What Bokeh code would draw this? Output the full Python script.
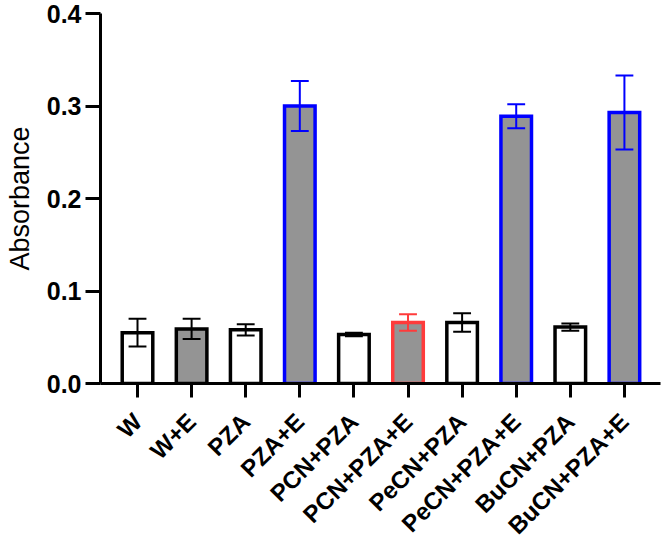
from math import pi

from bokeh.embed import file_html
from bokeh.models import ColumnDataSource, FixedTicker, Range1d
from bokeh.plotting import figure
from bokeh.resources import INLINE

# Absorbance per treatment group (mean and error)
groups = ["W", "W+E", "PZA", "PZA+E", "PCN+PZA", "PCN+PZA+E",
          "PeCN+PZA", "PeCN+PZA+E", "BuCN+PZA", "BuCN+PZA+E"]
means = [0.055, 0.059, 0.058, 0.300, 0.053, 0.066, 0.066, 0.289, 0.061, 0.293]
errors = [0.015, 0.011, 0.006, 0.027, 0.002, 0.009, 0.010, 0.013, 0.004, 0.040]
fills = ["white", "#949494", "white", "#949494", "white", "#949494",
         "white", "#949494", "white", "#949494"]
outlines = ["black", "black", "black", "#0000ff", "black", "#ff3b3b",
            "black", "#0000ff", "black", "#0000ff"]
y_ticks = [0.0, 0.1, 0.2, 0.3, 0.4]

FONT = "Liberation Sans"
BAR_W = 0.565
CAP = 0.165
X_LO, X_HI = -0.684, 9.667

xs = list(range(len(groups)))
src = ColumnDataSource(dict(
    x=xs, top=means, fill=fills, line=outlines,
    lo=[m - e for m, e in zip(means, errors)],
    hi=[m + e for m, e in zip(means, errors)],
    cl=[x - CAP for x in xs], cr=[x + CAP for x in xs],
))

p = figure(width=665, height=557, output_backend="svg", toolbar_location=None,
           x_range=Range1d(X_LO, X_HI), y_range=Range1d(0, 0.4),
           min_border_left=100, min_border_right=5,
           min_border_top=13, min_border_bottom=174)
p.frame_width = 560
p.frame_height = 370
p.outline_line_color = None
p.grid.visible = False
p.background_fill_color = "white"

p.vbar(x="x", top="top", bottom=0, width=BAR_W, source=src,
       fill_color="fill", line_color="line", line_width=3.5,
       line_join="miter")

# error bars drawn over the bars
p.segment(x0="x", y0="lo", x1="x", y1="hi", source=src,
          line_color="line", line_width=2)
p.segment(x0="cl", y0="hi", x1="cr", y1="hi", source=src,
          line_color="line", line_width=2)
p.segment(x0="cl", y0="lo", x1="cr", y1="lo", source=src,
          line_color="line", line_width=2)

xa = p.xaxis[0]
xa.ticker = FixedTicker(ticks=xs)
xa.major_label_overrides = {i: g for i, g in enumerate(groups)}
xa.major_label_orientation = pi / 4
xa.minor_tick_line_color = None
xa.major_tick_in = 0
xa.major_tick_out = 14
xa.major_tick_line_width = 3
xa.axis_line_width = 3
xa.major_label_text_font = FONT
xa.major_label_text_font_style = "bold"
xa.major_label_text_font_size = "24px"
xa.major_label_text_color = "black"
xa.major_label_standoff = 20

ya = p.yaxis[0]
ya.ticker = FixedTicker(ticks=y_ticks)
ya.major_label_overrides = {t: f"{t:.1f}" for t in y_ticks}
ya.minor_tick_line_color = None
ya.major_tick_in = 0
ya.major_tick_out = 15
ya.major_tick_line_width = 3
ya.axis_line_width = 3
ya.major_label_text_font = FONT
ya.major_label_text_font_style = "bold"
ya.major_label_text_font_size = "25px"
ya.major_label_text_color = "black"
ya.major_label_standoff = 4
ya.axis_label = "Absorbance"
ya.axis_label_text_font = FONT
ya.axis_label_text_font_style = "normal"
ya.axis_label_text_font_size = "27px"
ya.axis_label_text_color = "black"
ya.axis_label_standoff = 9

open("out.html", "w").write(file_html(p, INLINE))
